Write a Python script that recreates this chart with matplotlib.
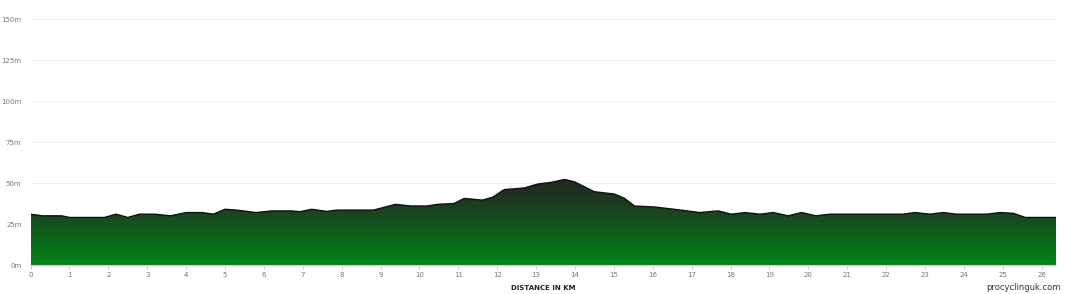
"""
Elevation profile of a stage, drawn with matplotlib
"""
import numpy as np
import matplotlib
matplotlib.use("Agg")
import matplotlib.pyplot as plt
from matplotlib.colors import LinearSegmentedColormap

# distance (km) and elevation (m)
distance_km = [0.0, 0.3, 0.8, 1.0, 1.5, 1.9, 2.2, 2.5, 2.8, 3.2, 3.6, 4.0, 4.4, 4.7,
               5.0, 5.3, 5.8, 6.2, 6.7, 6.93, 7.23, 7.62, 7.88, 8.82, 9.38, 9.77,
               10.2, 10.46, 10.89, 11.15, 11.62, 11.88, 12.18, 12.7, 13.04, 13.39,
               13.73, 13.98, 14.5, 15.01, 15.27, 15.53, 16.04, 16.55, 17.21, 17.68,
               18.02, 18.37, 18.76, 19.1, 19.48, 19.83, 20.2, 20.55, 22.44, 22.74,
               23.13, 23.47, 23.82, 24.59, 24.93, 25.28, 25.58, 26.37]
elevation_m = [31, 30, 30, 29, 29, 29, 31, 29, 31, 31, 30, 32, 32, 31,
               34, 33.5, 32, 33, 33, 32.5, 34, 32.7, 33.5, 33.5, 37, 36,
               36, 37, 37.5, 40.6, 39.6, 41.3, 46, 47, 49.4, 50.4,
               52.2, 50.8, 44.7, 43.3, 40.7, 36, 35.4, 34, 32, 33,
               31, 32, 31, 32, 30, 32, 30, 31, 31, 32,
               31, 32, 31, 31, 32, 31.5, 29, 29]
y_ticks = [0, 25, 50, 75, 100, 125, 150]
x_ticks = list(range(0, 27))

fig = plt.figure(figsize=(10.68, 2.94), dpi=100)
axe = fig.add_axes([0.0286, 0.0986, 0.9602, 0.8364])

x = np.array(distance_km)
y = np.array(elevation_m)

# gradient fill clipped to the area under the profile
cmap = LinearSegmentedColormap.from_list(
    "prof", [(0.0, "#02861a"), (0.55, "#174b1e"), (1.0, "#242424")])
grad = np.linspace(0, 1, 256).reshape(-1, 1)
img = axe.imshow(grad, cmap=cmap, origin="lower", aspect="auto",
                 extent=[x[0], x[-1], 0, y.max()], zorder=2)
poly = axe.fill_between(x, 0, y, color="none", zorder=2)
img.set_clip_path(poly.get_paths()[0], transform=axe.transData)
axe.plot(x, y, color="#111111", lw=1.0, zorder=3)

axe.set_xlim(0, 26.37)
axe.set_ylim(0, 150)
axe.set_yticks(y_ticks)
axe.set_yticklabels([f"{v}m" for v in y_ticks])
axe.set_xticks(x_ticks)
axe.grid(axis="y", color="#f0f0f0", lw=0.8, zorder=0)
axe.tick_params(axis="y", length=0, labelsize=5, labelcolor="#777777", pad=6.5)
axe.tick_params(axis="x", length=3, color="#cccccc", labelsize=5,
                labelcolor="#777777", pad=2)
for side in ("top", "right", "left"):
    axe.spines[side].set_visible(False)
axe.spines["bottom"].set_color("#cccccc")
axe.spines["bottom"].set_linewidth(0.8)

axe.set_xlabel("DISTANCE IN KM", fontsize=5, fontweight="bold",
               color="#222222", labelpad=5)
fig.text(0.993, 0.008, "procyclinguk.com", ha="right", va="bottom",
         fontsize=6, color="#333333")

fig.savefig("out.png", dpi=100)
